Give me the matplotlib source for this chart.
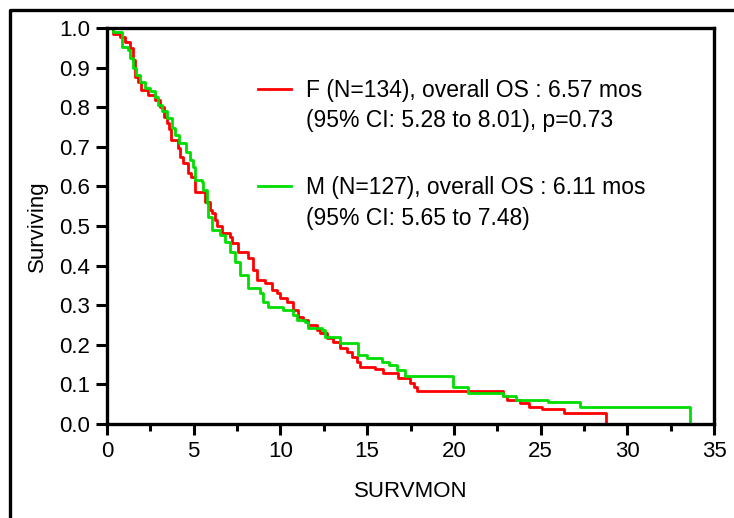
import matplotlib.pyplot as plt
from matplotlib.lines import Line2D

plt.rcParams['font.family'] = ['Liberation Sans', 'DejaVu Sans']

# Kaplan-Meier steps: time of drop (months) -> survival after drop
f_time = [0, 0.35, 0.75, 1.04, 1.33, 1.50, 1.61, 1.79, 1.96, 2.36, 2.77, 3.06, 3.29,
          3.46, 3.58, 3.69, 4.09, 4.21, 4.38, 4.67, 4.84, 5.07, 5.65, 5.94, 6.06, 6.23,
          6.34, 6.63, 7.09, 7.21, 7.55, 8.13, 8.42, 8.65, 9.11, 9.52, 9.80, 9.98, 10.38,
          10.73, 11.01, 11.30, 11.59, 12.11, 12.28, 12.69, 13.03, 13.44, 13.84, 14.13,
          14.42, 14.59, 15.46, 15.92, 16.78, 17.47, 17.70, 17.88, 22.84, 23.07, 23.82,
          24.34, 25.09, 26.36, 28.78]
f_surv = [1.0, 0.985, 0.978, 0.965, 0.95, 0.92, 0.877, 0.864, 0.843, 0.83, 0.818, 0.80, 0.775,
          0.76, 0.745, 0.717, 0.697, 0.674, 0.66, 0.634, 0.624, 0.586, 0.56, 0.54, 0.533, 0.515,
          0.50, 0.482, 0.472, 0.457, 0.435, 0.419, 0.389, 0.364, 0.356, 0.338, 0.33, 0.318, 0.308,
          0.288, 0.27, 0.263, 0.25, 0.237, 0.23, 0.217, 0.207, 0.192, 0.182, 0.169,
          0.157, 0.144, 0.139, 0.128, 0.116, 0.103, 0.094, 0.083, 0.071, 0.061, 0.053,
          0.043, 0.038, 0.028, 0.0]

m_time = [0, 0.35, 0.87, 1.21, 1.33, 1.50, 1.67, 1.90, 2.19, 2.48, 2.77, 2.94, 3.17, 3.46,
          3.75, 3.92, 4.15, 4.56, 4.79, 4.96, 5.07, 5.48, 5.54, 5.77, 5.82, 6.06, 6.52, 6.81,
          7.09, 7.38, 7.67, 8.13, 8.82, 9.00, 9.28, 10.15, 10.73, 10.96, 11.42, 11.59, 12.40,
          12.57, 13.44, 14.48, 14.99, 15.86, 16.26, 16.72, 17.19, 19.95, 20.82, 22.84, 23.59,
          25.43, 27.28, 33.62]
m_surv = [1.0, 0.99, 0.953, 0.944, 0.924, 0.90, 0.88, 0.864, 0.848, 0.84, 0.826, 0.806, 0.79, 0.772,
          0.747, 0.73, 0.71, 0.687, 0.667, 0.65, 0.616, 0.61, 0.59, 0.558, 0.523, 0.49, 0.477, 0.46,
          0.434, 0.41, 0.376, 0.343, 0.33, 0.308, 0.295, 0.288, 0.275, 0.263, 0.258, 0.242, 0.237,
          0.22, 0.205, 0.174, 0.167, 0.157, 0.149, 0.136, 0.121, 0.093, 0.078, 0.071, 0.061,
          0.056, 0.043, 0.0]

f_label = ["F (N=134), overall OS : 6.57 mos", "(95% CI: 5.28 to 8.01), p=0.73"]
m_label = ["M (N=127), overall OS : 6.11 mos", "(95% CI: 5.65 to 7.48)"]

red = '#ff0000'
green = '#00dd00'

fig = plt.figure(figsize=(7.34, 5.18), dpi=100)
ax = fig.add_axes([0.1458, 0.1815, 0.8270, 0.7645])

ax.step(f_time, f_surv, where='post', color=red, lw=2)
ax.step(m_time, m_surv, where='post', color=green, lw=2)

ax.set_xlim(0, 35)
ax.set_ylim(0, 1.0)
ax.set_xticks(range(0, 36, 5))
ax.set_xticks([x + 2.5 for x in range(0, 35, 5)], minor=True)
ax.set_yticks([i / 10 for i in range(11)])
ax.set_yticklabels(['%.1f' % (i / 10) for i in range(11)])
ax.tick_params(which='major', length=8, width=2.2, labelsize=16, direction='out', pad=4)
ax.tick_params(which='minor', length=5, width=2.2, direction='out')
for s in ax.spines.values():
    s.set_linewidth(2.4)

ax.set_xlabel('SURVMON', fontsize=16, labelpad=14)
ax.set_ylabel('Surviving', fontsize=16, labelpad=8)

blank = Line2D([], [], color='none')
red_h = Line2D([], [], color=red, lw=2)
green_h = Line2D([], [], color=green, lw=2)

leg_kw = dict(loc='upper left', frameon=False, fontsize=16.5, handlelength=1.44,
              handletextpad=0.65, labelspacing=0.31, borderpad=0, borderaxespad=0)
leg1 = ax.legend([red_h, blank], f_label, bbox_to_anchor=(0.249, 0.872), **leg_kw)
ax.add_artist(leg1)
ax.legend([green_h, blank], m_label, bbox_to_anchor=(0.249, 0.625), **leg_kw)

# outer frame (partly cut off in the original)
fx0 = 10 / 734
fy1 = 1 - 10 / 518
fig.add_artist(Line2D([fx0, fx0, 1], [0, fy1, fy1], color='black', lw=2.4,
                      transform=fig.transFigure))

fig.savefig('out.png', dpi=100)
